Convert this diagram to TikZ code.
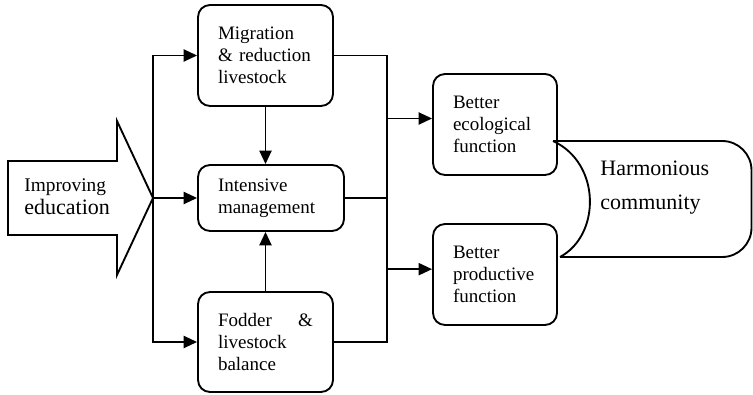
\documentclass[tikz,border=0pt]{standalone}
\usepackage{fontspec}
\setmainfont{Liberation Serif}
\usetikzlibrary{arrows.meta}
\begin{document}
\begin{tikzpicture}[x=0.75pt,y=-0.75pt,line width=1.4pt,>={Triangle[length=10pt,width=9pt]},
panel/.style={draw,rounded corners=9pt,align=left,inner xsep=15pt,inner ysep=0pt,font=\fontsize{14.25}{16.5}\selectfont}]
\useasboundingbox (0,0) rectangle (753,395);
\node[panel,text width=71.25pt,minimum height=75.75pt] (mig) at (265.5,55.5) {Migration\\\& reduction\\livestock};
\node[panel,text width=79.5pt,minimum height=49.5pt] (int) at (271,198) {Intensive\\management};
\node[panel,text width=71.25pt,minimum height=75pt] (fod) at (265.5,342) {Fodder\hspace{\fill}\&\\livestock\\balance};
\node[panel,text width=63pt,minimum height=75.75pt] (eco) at (495,124.5) {Better\\ecological\\function};
\node[panel,text width=63pt,minimum height=75.75pt] (pro) at (495,274.5) {Better\\productive\\function};
\coordinate (tip) at (153,198);
\draw (8,161) -- (117,161) -- (117,121) -- (tip) -- (117,275) -- (117,235) -- (8,235) -- cycle;
\node[anchor=west,align=left,font=\fontsize{16.5}{17.25}\selectfont] (edu) at (19,197) {{\fontsize{14.5}{17.25}\selectfont Improving}\\education};
\node[anchor=west,align=left,font=\fontsize{16.5}{25.5}\selectfont] (harm) at (595,188) {Harmonious\\community};
\draw[->] (tip) |- (mig.west);
\draw[->] (tip) |- (fod.west);
\draw[->] (tip) -- (int.west);
\draw[->] (mig.south) -- (mig.south |- int.north);
\draw[->] (fod.north) -- (fod.north |- int.south);
\coordinate (bus) at (387,198);
\draw (mig.east) -| (bus) |- (fod.east);
\draw (int.east) -- (bus);
\coordinate (ecoin) at ([yshift=4.5pt]eco.west);
\coordinate (proin) at ([yshift=4pt]pro.west);
\draw[->] (ecoin -| bus) -- (ecoin);
\draw[->] (proin -| bus) -- (proin);
\draw[rounded corners=22pt] (553,141) -- (751.5,141) -- (751.5,257) -- (560,257);
\draw (553,141) .. controls (601,163) and (601,235) .. (560,257);
\end{tikzpicture}
\end{document}
